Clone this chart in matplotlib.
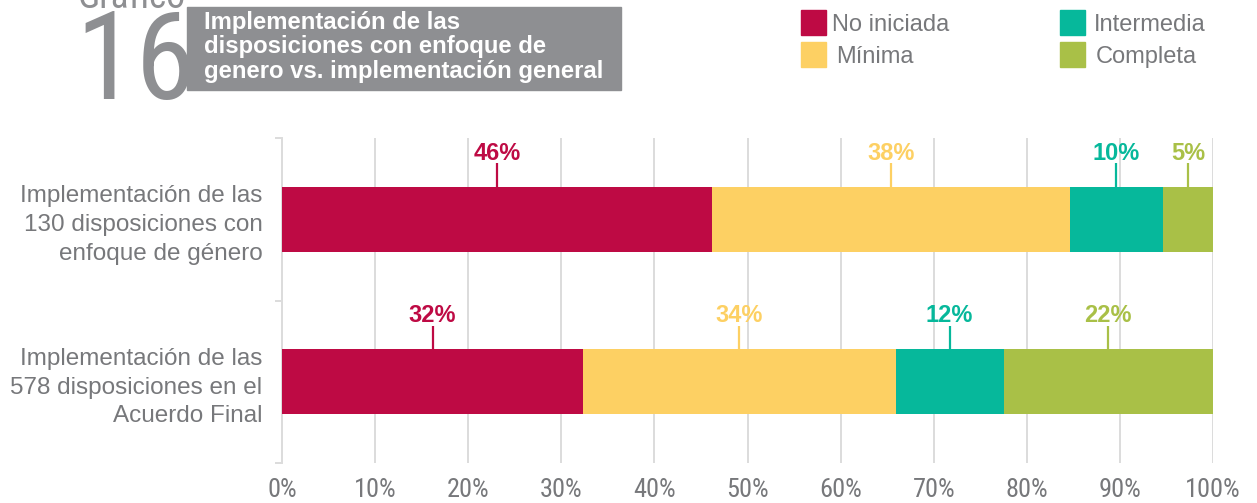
import matplotlib
matplotlib.use("Agg")
import matplotlib.pyplot as plt
from matplotlib.patches import Rectangle
from matplotlib.ticker import FixedLocator

# Porcentajes por estado de implementación
grupos = [
    "Implementación de las\n578 disposiciones en el\nAcuerdo Final",
    "Implementación de las\n130 disposiciones con\nenfoque de género",
]
estados = ["No iniciada", "Mínima", "Intermedia", "Completa"]
general = [32.35, 33.56, 11.59, 22.49]   # 578 disposiciones
genero = [46.15, 38.46, 10.00, 5.38]     # 130 disposiciones
colores = ["#BE0A44", "#FDD063", "#06B89B", "#A9C047"]
xticks = [0, 10, 20, 30, 40, 50, 60, 70, 80, 90, 100]

W, H = 1257, 503
GRIS_TXT = "#77787B"
GRIS_CAJA = "#8E8F92"
GRIS_LINEA = "#DCDCDC"
FUENTE = ["Liberation Sans", "DejaVu Sans"]
ANGOSTA = ["Roboto Condensed", "Liberation Sans", "DejaVu Sans"]

plt.rcParams["font.family"] = FUENTE


def fx(x):
    return x / W


def fy(y):
    return 1 - y / H


fig = plt.figure(figsize=(W / 100, H / 100), dpi=100)
ax = fig.add_axes([fx(282), fy(463), fx(1213) - fx(282), fy(138) - fy(463)])

alto = 0.4
series = [general, genero]
for fila, valores in enumerate(series):
    izq = 0
    for val, col in zip(valores, colores):
        ax.barh(fila, val, left=izq, height=alto, color=col, zorder=3, linewidth=0)
        medio = izq + val / 2
        tope = fila + alto / 2
        ax.plot([medio, medio], [tope, tope + 0.145], color=col, lw=1.6,
                zorder=3, solid_capstyle="butt")
        ax.text(medio, tope + 0.205, f"{round(val)}%", color=col, ha="center",
                va="center", fontsize=17, fontweight="bold")
        izq += val

ax.set_xlim(0, 100)
ax.set_ylim(-0.5, 1.5)
ax.set_xticks(xticks)
ax.set_xticklabels([f"{t}%" for t in xticks], family=ANGOSTA, fontsize=19,
                   color=GRIS_TXT)
ax.set_yticks([0, 1])
ax.set_yticklabels(grupos, fontsize=17.5, color=GRIS_TXT, linespacing=1.4)
ax.yaxis.set_minor_locator(FixedLocator([-0.5, 0.5, 1.5]))
ax.tick_params(axis="x", length=0, pad=11)
ax.tick_params(axis="y", which="major", length=0, pad=14)
ax.tick_params(axis="y", which="minor", length=5, width=1.4, color=GRIS_LINEA)
ax.grid(axis="x", color=GRIS_LINEA, lw=1.4, zorder=0)
for lado in ["top", "right", "bottom"]:
    ax.spines[lado].set_visible(False)
ax.spines["left"].set_color(GRIS_LINEA)
ax.spines["left"].set_linewidth(1.4)

# Encabezado: número del gráfico y caja de título
fig.text(fx(78), fy(8), "Gráfico", fontsize=27, color=GRIS_CAJA,
         family=ANGOSTA, ha="left", va="baseline")
fig.text(fx(75), fy(99), "16", fontsize=88, color=GRIS_CAJA,
         family=ANGOSTA, ha="left", va="baseline")
fig.patches.append(Rectangle((fx(187), fy(90)), fx(621) - fx(187), fy(7) - fy(90),
                             transform=fig.transFigure, color=GRIS_CAJA, zorder=1))
fig.text(fx(204), fy(47), "Implementación de las\ndisposiciones con enfoque de\n"
         "genero vs. implementación general", color="white", fontsize=17.2,
         fontweight="bold", ha="left", va="center", linespacing=1.1, zorder=2)

# Leyenda
pos_leyenda = [(801, 10, 832), (801, 42, 836), (1060, 10, 1094), (1060, 42, 1096)]
for (lx, ly, tx), nombre, col in zip(pos_leyenda, estados, colores):
    fig.patches.append(Rectangle((fx(lx), fy(ly + 25)), fx(25), 25 / H,
                                 transform=fig.transFigure, color=col))
    fig.text(fx(tx), fy(ly + 15), nombre, fontsize=17, color=GRIS_TXT,
             ha="left", va="center")

fig.savefig("out.png", dpi=100)
